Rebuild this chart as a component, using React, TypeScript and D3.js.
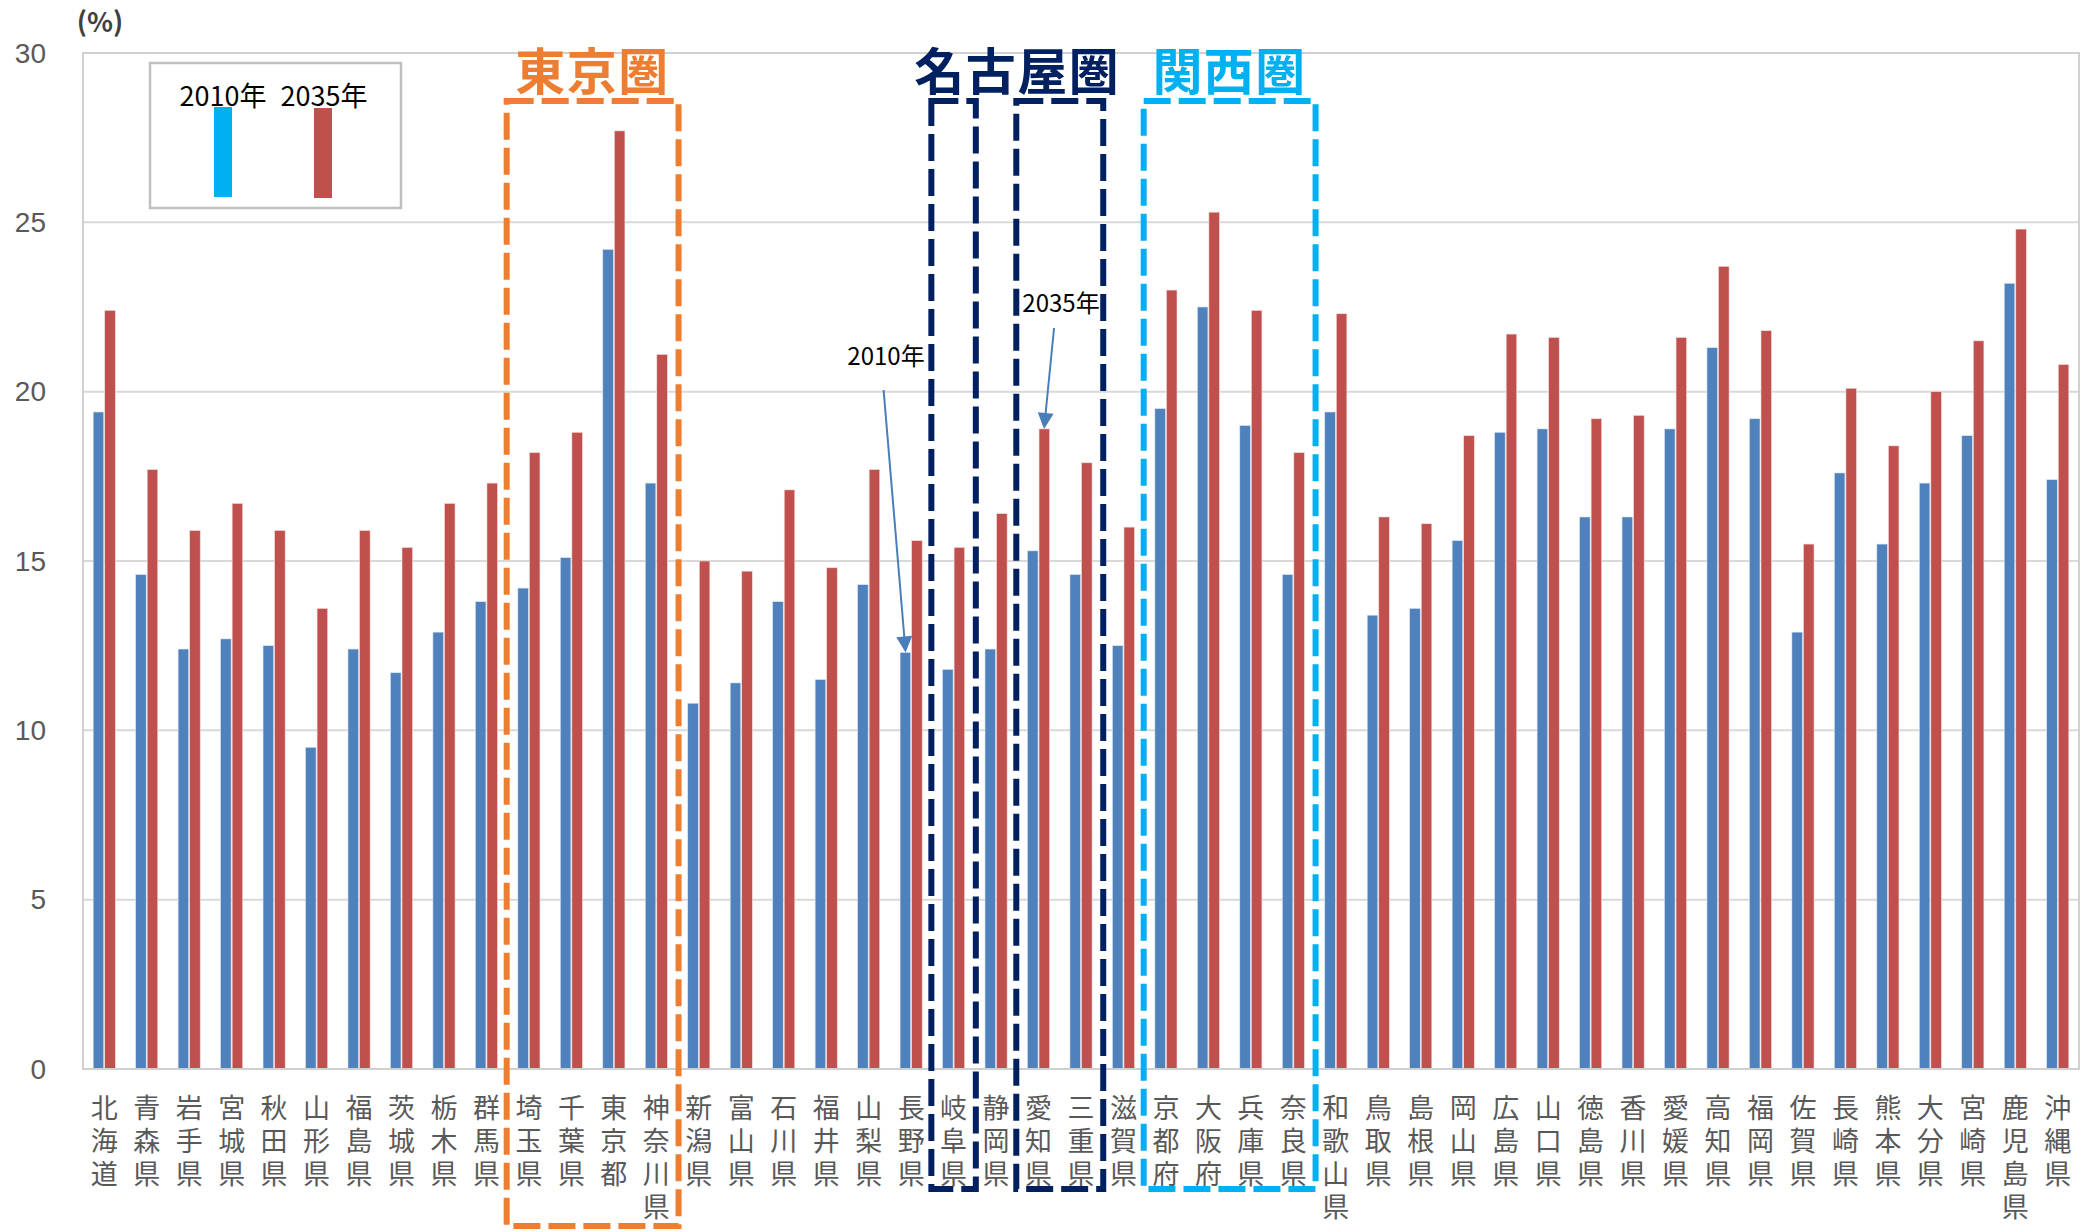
import React from "react";
import * as d3 from "d3";

const prefectures = [
  "北海道", "青森県", "岩手県", "宮城県", "秋田県", "山形県", "福島県", "茨城県", "栃木県", "群馬県",
  "埼玉県", "千葉県", "東京都", "神奈川県", "新潟県", "富山県", "石川県", "福井県", "山梨県", "長野県",
  "岐阜県", "静岡県", "愛知県", "三重県", "滋賀県", "京都府", "大阪府", "兵庫県", "奈良県", "和歌山県",
  "鳥取県", "島根県", "岡山県", "広島県", "山口県", "徳島県", "香川県", "愛媛県", "高知県", "福岡県",
  "佐賀県", "長崎県", "熊本県", "大分県", "宮崎県", "鹿児島県", "沖縄県",
];

const values2010 = [
  19.4, 14.6, 12.4, 12.7, 12.5, 9.5, 12.4, 11.7, 12.9, 13.8,
  14.2, 15.1, 24.2, 17.3, 10.8, 11.4, 13.8, 11.5, 14.3, 12.3,
  11.8, 12.4, 15.3, 14.6, 12.5, 19.5, 22.5, 19.0, 14.6, 19.4,
  13.4, 13.6, 15.6, 18.8, 18.9, 16.3, 16.3, 18.9, 21.3, 19.2,
  12.9, 17.6, 15.5, 17.3, 18.7, 23.2, 17.4,
];

const values2035 = [
  22.4, 17.7, 15.9, 16.7, 15.9, 13.6, 15.9, 15.4, 16.7, 17.3,
  18.2, 18.8, 27.7, 21.1, 15.0, 14.7, 17.1, 14.8, 17.7, 15.6,
  15.4, 16.4, 18.9, 17.9, 16.0, 23.0, 25.3, 22.4, 18.2, 22.3,
  16.3, 16.1, 18.7, 21.7, 21.6, 19.2, 19.3, 21.6, 23.7, 21.8,
  15.5, 20.1, 18.4, 20.0, 21.5, 24.8, 20.8,
];

const seriesNames = ["2010年", "2035年"];
const yTicks = [0, 5, 10, 15, 20, 25, 30];

const regions = [
  { name: "東京圏", color: "#ED7D31", groups: [["埼玉県", "神奈川県"]], bottom: 1226 },
  { name: "名古屋圏", color: "#002060", groups: [["岐阜県", "岐阜県"], ["愛知県", "三重県"]], bottom: 1189 },
  { name: "関西圏", color: "#00B0F0", groups: [["京都府", "奈良県"]], bottom: 1189 },
];

const W = 2099;
const H = 1232;
const left = 83;
const right = 2079;
const top = 53;
const bottom = 1069;

const blue = "#4F81BD";
const red = "#C0504D";

export default function App() {
  const x = d3.scaleBand<string>().domain(prefectures).range([left, right]).padding(0);
  const inner = d3
    .scaleBand<string>()
    .domain(seriesNames)
    .range([0, x.bandwidth()])
    .paddingInner(0)
    .paddingOuter(0.92);
  const y = d3.scaleLinear().domain([0, 30]).range([bottom, top]);
  const bw = inner.bandwidth();

  const cjk = "'Noto Sans CJK JP', 'Noto Sans', sans-serif";

  const naganoIdx = prefectures.indexOf("長野県");
  const aichiIdx = prefectures.indexOf("愛知県");
  const tip2010 = {
    x: (x("長野県") as number) + (inner("2010年") as number) + bw / 2,
    y: y(values2010[naganoIdx]),
  };
  const tip2035 = {
    x: (x("愛知県") as number) + (inner("2035年") as number) + bw / 2,
    y: y(values2035[aichiIdx]),
  };
  const tail2010 = { x: tip2010.x - 22, y: 390 };
  const tail2035 = { x: tip2035.x + 10, y: 328 };

  const arrowHead = (from: { x: number; y: number }, to: { x: number; y: number }) => {
    const ang = Math.atan2(to.y - from.y, to.x - from.x);
    const len = 16;
    const half = 8;
    const bx = to.x - len * Math.cos(ang);
    const by = to.y - len * Math.sin(ang);
    const px = -Math.sin(ang) * half;
    const py = Math.cos(ang) * half;
    return `M${to.x},${to.y}L${bx + px},${by + py}L${bx - px},${by - py}Z`;
  };
  const shaft = (from: { x: number; y: number }, to: { x: number; y: number }) => {
    const ang = Math.atan2(to.y - from.y, to.x - from.x);
    return { x2: to.x - 12 * Math.cos(ang), y2: to.y - 12 * Math.sin(ang) };
  };
  const s2010 = shaft(tail2010, tip2010);
  const s2035 = shaft(tail2035, tip2035);

  return (
    <svg
      width={W}
      height={H}
      viewBox={`0 0 ${W} ${H}`}
      style={{ position: "absolute", left: 0, top: 0, background: "#fff" }}
    >
      <rect x={0} y={0} width={W} height={H} fill="#fff" />
      {yTicks.map((t) => (
        <line key={t} x1={left} x2={right} y1={y(t)} y2={y(t)} stroke="#D9D9D9" strokeWidth={2} />
      ))}
      <rect x={left} y={top} width={right - left} height={bottom - top} fill="none" stroke="#D0D0D0" strokeWidth={2} />

      {yTicks.map((t) => (
        <text
          key={"yl" + t}
          x={46}
          y={y(t)}
          textAnchor="end"
          dominantBaseline="central"
          fontFamily="'Liberation Sans', Arial, sans-serif"
          fontSize={28}
          fill="#595959"
        >
          {t}
        </text>
      ))}
      <text x={100} y={20} textAnchor="middle" dominantBaseline="central" fontFamily={cjk} fontSize={27} fontWeight={700} fill="#404040">
        (%)
      </text>

      {prefectures.map((p, i) => {
        const x0 = x(p) as number;
        return (
          <g key={p}>
            <rect
              x={x0 + (inner("2010年") as number)}
              y={y(values2010[i])}
              width={bw - 0.5}
              height={bottom - y(values2010[i])}
              fill={blue}
              stroke="#dbe5f1"
              strokeWidth={0.6}
            />
            <rect
              x={x0 + (inner("2035年") as number) + 0.5}
              y={y(values2035[i])}
              width={bw - 0.5}
              height={bottom - y(values2035[i])}
              fill={red}
              stroke="#f2dcdb"
              strokeWidth={0.6}
            />
          </g>
        );
      })}
      <line x1={left} x2={right} y1={bottom} y2={bottom} stroke="#D0D0D0" strokeWidth={2} />

      {prefectures.map((p) => {
        const cx = (x(p) as number) + x.bandwidth() / 2;
        return (
          <text
            key={"xl" + p}
            x={cx}
            y={1106}
            textAnchor="middle"
            dominantBaseline="central"
            fontFamily={cjk}
            fontSize={27}
            fill="#595959"
          >
            {Array.from(p).map((ch, k) => (
              <tspan key={k} x={cx} dy={k === 0 ? 0 : 33}>
                {ch}
              </tspan>
            ))}
          </text>
        );
      })}

      <rect x={150} y={63} width={251} height={145} fill="#fff" stroke="#BFBFBF" strokeWidth={2.5} />
      <text x={223} y={94} textAnchor="middle" dominantBaseline="central" fontFamily={cjk} fontSize={27} fill="#000">
        {seriesNames[0]}
      </text>
      <text x={324} y={94} textAnchor="middle" dominantBaseline="central" fontFamily={cjk} fontSize={27} fill="#000">
        {seriesNames[1]}
      </text>
      <rect x={214} y={107} width={18} height={90} fill="#00B0F0" />
      <rect x={314} y={108} width={18} height={90} fill={red} />

      {regions.map((r) => {
        const boxes = r.groups.map(([a, b]) => {
          const x1 = x(a) as number;
          const x2 = (x(b) as number) + x.bandwidth();
          return { x1, x2 };
        });
        const minX = d3.min(boxes, (b) => b.x1) as number;
        const maxX = d3.max(boxes, (b) => b.x2) as number;
        return (
          <g key={r.name}>
            {boxes.map((b, k) => (
              <rect
                key={k}
                x={b.x1 - 1}
                y={101}
                width={b.x2 - b.x1 + 2}
                height={r.bottom - 101}
                fill="none"
                stroke={r.color}
                strokeWidth={6}
                strokeDasharray="27 8"
              />
            ))}
            <text
              x={(minX + maxX) / 2}
              y={68}
              textAnchor="middle"
              dominantBaseline="central"
              fontFamily={cjk}
              fontSize={50}
              fontWeight={700}
              letterSpacing={1.5}
              fill={r.color}
            >
              {r.name}
            </text>
          </g>
        );
      })}

      <line x1={tail2010.x} y1={tail2010.y} x2={s2010.x2} y2={s2010.y2} stroke="#4A7EBB" strokeWidth={2} />
      <path d={arrowHead(tail2010, tip2010)} fill="#4A7EBB" />
      <text x={886} y={354} textAnchor="middle" dominantBaseline="central" fontFamily={cjk} fontSize={24} fill="#000">
        2010年
      </text>
      <line x1={tail2035.x} y1={tail2035.y} x2={s2035.x2} y2={s2035.y2} stroke="#4A7EBB" strokeWidth={2} />
      <path d={arrowHead(tail2035, tip2035)} fill="#4A7EBB" />
      <text x={1061} y={301} textAnchor="middle" dominantBaseline="central" fontFamily={cjk} fontSize={24} fill="#000">
        2035年
      </text>
    </svg>
  );
}
